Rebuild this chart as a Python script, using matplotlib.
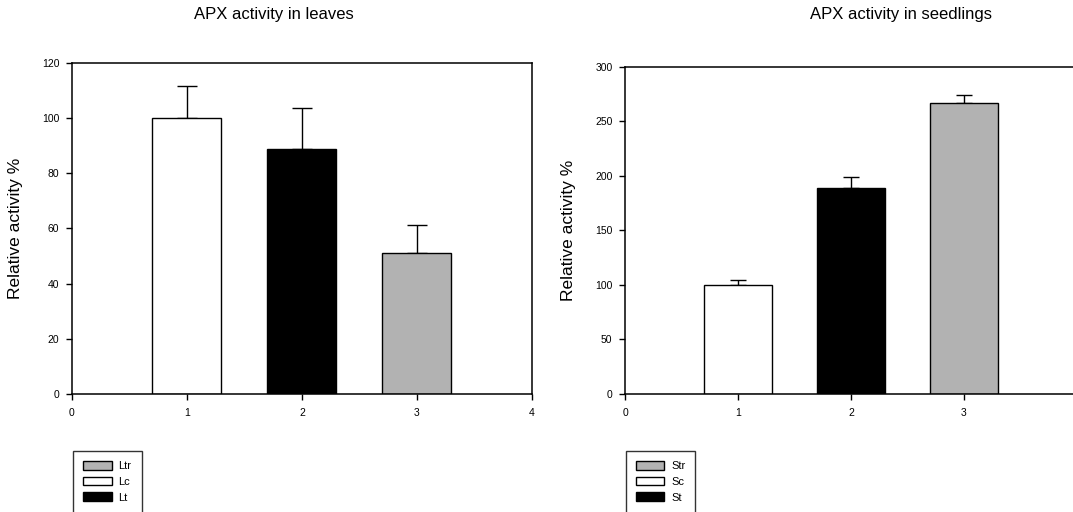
import matplotlib
matplotlib.use("Agg")
import matplotlib.pyplot as plt
from matplotlib.patches import Patch

plt.rcParams["font.family"] = ["Liberation Sans", "DejaVu Sans"]

# =========================
# DATOS
# =========================
positions = [1, 2, 3]

leaves_names = ["Lc", "Lt", "Ltr"]
leaves_vals = [100, 88.7, 51.2]
leaves_err = [11.7, 15.1, 10.1]

seed_names = ["Sc", "St", "Str"]
seed_vals = [100, 189.3, 267.2]
seed_err = [4.9, 9.5, 7.1]

bar_colors = ["white", "black", "#b2b2b2"]

fig = plt.figure(figsize=(10.73, 5.12), dpi=100)

ax1 = fig.add_axes([0.0671, 0.2305, 0.4287, 0.6465])
ax2 = fig.add_axes([0.5825, 0.2305, 0.4212, 0.6387])


def panel(ax, vals, err, ymax, ystep, cap, xt):
    ax.bar(positions, vals, width=0.6, color=bar_colors,
           edgecolor="black", linewidth=1.0, zorder=2)
    ax.errorbar(positions, vals, yerr=[[0] * len(err), err], fmt="none",
                ecolor="black", elinewidth=1.0, capsize=cap, capthick=1.0,
                zorder=1)
    ax.set_xlim(0, 4)
    ax.set_ylim(0, ymax)
    ax.set_xticks(xt)
    ax.set_yticks(range(0, ymax + 1, ystep))
    ax.tick_params(direction="out", length=4, width=1.0, labelsize=7.5,
                   pad=5)
    ax.tick_params(axis="x", pad=6)
    for s in ax.spines.values():
        s.set_linewidth(1.1)
    ax.set_ylabel("Relative activity %", fontsize=12.5, labelpad=14)


panel(ax1, leaves_vals, leaves_err, 120, 20, 7, [0, 1, 2, 3, 4])
panel(ax2, seed_vals, seed_err, 300, 50, 6, [0, 1, 2, 3])

fig.text(0.2554, 0.972, "APX activity in leaves", ha="center", va="center",
         fontsize=12)
fig.text(0.8397, 0.972, "APX activity in seedlings", ha="center", va="center",
         fontsize=12)

# =========================
# LEYENDAS
# =========================
def leyenda(x, names):
    order = [2, 0, 1]
    handles = [Patch(facecolor=bar_colors[i], edgecolor="black",
                     linewidth=1.0, label=names[i]) for i in order]
    lg = fig.legend(handles=handles, loc="upper left",
                    bbox_to_anchor=(x, 0.119), fontsize=8, frameon=True,
                    fancybox=False, edgecolor="black", handlelength=2.6,
                    handleheight=0.8, labelspacing=0.5, borderpad=0.9,
                    handletextpad=0.6, borderaxespad=0)
    lg.get_frame().set_linewidth(1.0)


leyenda(0.068, leaves_names)
leyenda(0.583, seed_names)

plt.savefig("out.png", dpi=100)
plt.close()
